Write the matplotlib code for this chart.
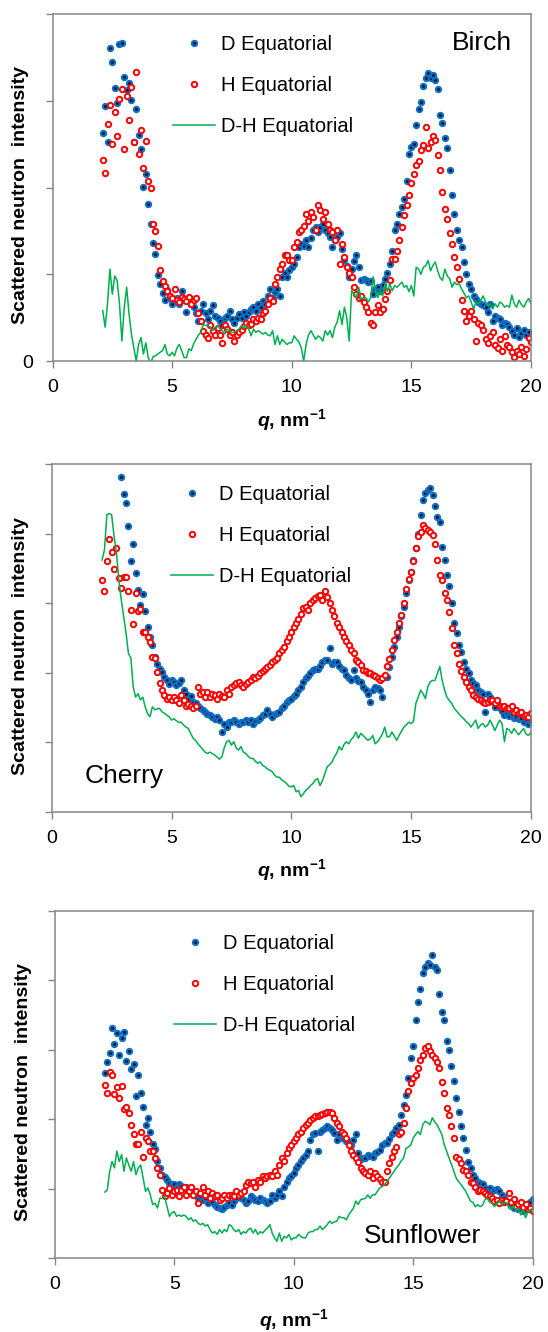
import matplotlib
matplotlib.use('Agg')
import matplotlib.pyplot as plt
import numpy as np

plt.rcParams['font.family'] = ['Liberation Sans', 'DejaVu Sans']
plt.rcParams['mathtext.fontset'] = 'custom'
plt.rcParams['mathtext.it'] = 'Liberation Sans:italic:bold'
plt.rcParams['mathtext.rm'] = 'Liberation Sans:bold'
plt.rcParams['mathtext.bf'] = 'Liberation Sans:bold'

# q grid, nm^-1 (2.1 ... 20.0)
q = np.round(np.arange(2.1, 20.05, 0.1), 1)

# intensities in tick units
birch_d = [
    2.63, 2.94, 2.52, 3.61, 3.45, 3.15, 2.97, 3.65, 3.66, 3.27,
    3.12, 3.21, 3.01, 2.52, 2.90, 2.61, 2.44, 2.01, 2.15, 1.81,
    1.58, 1.36, 1.23, 0.99, 0.89, 0.78, 0.70, 0.82, 0.73, 0.66,
    0.70, 0.73, 0.66, 0.81, 0.70, 0.56, 0.73, 0.66, 0.62, 0.55,
    0.46, 0.58, 0.66, 0.55, 0.48, 0.58, 0.64, 0.52, 0.50, 0.46,
    0.42, 0.50, 0.52, 0.58, 0.48, 0.44, 0.50, 0.54, 0.50, 0.56,
    0.52, 0.56, 0.60, 0.62, 0.58, 0.66, 0.62, 0.69, 0.66, 0.75,
    0.83, 0.73, 0.80, 0.83, 0.75, 0.97, 1.02, 0.97, 1.05, 1.08,
    1.12, 1.20, 1.31, 1.35, 1.33, 1.39, 1.31, 1.42, 1.51, 1.54,
    1.49, 1.55, 1.58, 1.51, 1.47, 1.43, 1.31, 1.39, 1.43, 1.47,
    1.29, 1.16, 1.10, 0.97, 1.06, 1.15, 1.22, 1.08, 0.93, 0.95,
    0.93, 0.91, 0.92, 0.77, 0.83, 0.85, 0.81, 0.88, 0.95, 1.02,
    1.12, 1.27, 1.51, 1.58, 1.70, 1.78, 1.87, 2.07, 2.39, 2.47,
    2.50, 2.72, 2.90, 2.99, 3.17, 3.26, 3.32, 3.26, 3.30, 3.24,
    3.13, 2.84, 2.74, 2.57, 2.45, 2.20, 1.91, 1.70, 1.51, 1.39,
    1.31, 1.14, 1.00, 0.89, 0.83, 0.75, 0.72, 0.68, 0.66, 0.64,
    0.62, 0.56, 0.66, 0.46, 0.52, 0.50, 0.48, 0.42, 0.44, 0.43,
    0.39, 0.35, 0.30, 0.38, 0.28, 0.32, 0.36, 0.30, 0.33, 0.27,
]
birch_h = [
    2.32, 2.17, 2.73, 2.95, 2.50, 2.87, 2.59, 3.02, 3.14, 2.44,
    3.06, 2.78, 3.16, 2.52, 3.33, 2.39, 2.66, 2.22, 2.54, 2.08,
    2.00, 1.58, 1.50, 1.32, 1.05, 0.92, 0.86, 0.81, 0.75, 0.73,
    0.83, 0.70, 0.68, 0.74, 0.72, 0.69, 0.74, 0.66, 0.70, 0.73,
    0.55, 0.46, 0.35, 0.30, 0.27, 0.41, 0.35, 0.30, 0.38, 0.30,
    0.21, 0.41, 0.37, 0.30, 0.33, 0.23, 0.30, 0.33, 0.36, 0.40,
    0.44, 0.41, 0.43, 0.48, 0.46, 0.50, 0.48, 0.55, 0.58, 0.66,
    0.73, 0.69, 0.89, 0.97, 1.06, 1.12, 1.22, 1.22, 1.16, 1.16,
    1.31, 1.37, 1.49, 1.51, 1.56, 1.70, 1.61, 1.72, 1.66, 1.51,
    1.80, 1.74, 1.64, 1.72, 1.58, 1.51, 1.49, 1.39, 1.51, 1.12,
    1.35, 1.20, 1.08, 1.02, 0.97, 0.85, 0.77, 0.73, 0.75, 0.68,
    0.62, 0.56, 0.44, 0.41, 0.56, 0.64, 0.56, 0.60, 0.71, 0.81,
    0.93, 1.18, 1.18, 1.27, 1.39, 1.54, 1.68, 1.80, 1.91, 2.05,
    2.16, 2.26, 2.30, 2.43, 2.49, 2.70, 2.45, 2.53, 2.59, 2.55,
    2.37, 2.20, 1.95, 1.75, 1.64, 1.47, 1.35, 1.20, 1.08, 0.95,
    0.70, 0.58, 0.46, 0.52, 0.58, 0.48, 0.23, 0.44, 0.41, 0.36,
    0.25, 0.21, 0.29, 0.33, 0.19, 0.15, 0.25, 0.12, 0.29, 0.18,
    0.16, 0.10, 0.05, 0.12, 0.08, 0.16, 0.06, 0.14, 0.26, 0.22,
]
birch_dh = [
    0.58, 0.39, 0.66, 1.06, 0.77, 0.98, 0.93, 0.66, 0.23, 0.62,
    0.85, 0.54, 0.31, 0.15, 0.00, 0.19, 0.27, 0.08, 0.21, 0.04,
    -0.03, 0.05, 0.06, 0.08, 0.10, 0.12, 0.19, 0.08, 0.06, 0.10,
    0.06, 0.15, 0.19, 0.12, 0.04, 0.04, 0.14, 0.12, 0.20, 0.25,
    0.30, 0.33, 0.42, 0.41, 0.41, 0.39, 0.35, 0.39, 0.41, 0.37,
    0.35, 0.31, 0.37, 0.35, 0.33, 0.33, 0.35, 0.37, 0.41, 0.38,
    0.41, 0.37, 0.29, 0.37, 0.33, 0.35, 0.33, 0.31, 0.33, 0.30,
    0.29, 0.35, 0.19, 0.29, 0.19, 0.25, 0.22, 0.19, 0.21, 0.21,
    0.29, 0.25, 0.22, 0.15, 0.00, 0.19, 0.30, 0.35, 0.30, 0.25,
    0.29, 0.27, 0.23, 0.35, 0.30, 0.35, 0.27, 0.39, 0.45, 0.58,
    0.42, 0.62, 0.50, 0.23, 0.81, 0.77, 0.73, 0.85, 0.71, 0.73,
    0.73, 0.68, 0.73, 0.97, 0.81, 0.73, 0.81, 0.75, 0.89, 0.80,
    0.89, 0.81, 0.87, 0.85, 0.88, 0.91, 0.85, 0.87, 0.80, 0.87,
    0.75, 1.08, 1.06, 1.00, 1.08, 1.10, 1.16, 1.04, 1.10, 1.14,
    1.04, 0.96, 0.93, 1.06, 0.98, 0.95, 0.85, 0.91, 0.88, 0.89,
    0.83, 0.78, 0.73, 0.75, 0.68, 0.60, 0.68, 0.66, 0.70, 0.75,
    0.68, 0.64, 0.66, 0.60, 0.66, 0.62, 0.68, 0.66, 0.62, 0.64,
    0.62, 0.76, 0.66, 0.62, 0.70, 0.65, 0.62, 0.68, 0.72, 0.66,
]

nan = np.nan
cherry_d = [
    nan, nan, nan, nan, nan, nan, nan, nan, 4.82, 4.57,
    4.44, 4.11, 3.60, 3.85, 3.43, 3.19, 2.97, 3.13, 2.89, 2.66,
    2.52, 2.40, 2.23, 2.13, 2.05, 2.01, 1.94, 1.89, 1.84, 1.90,
    1.87, 1.82, 1.85, 1.89, 1.75, 1.70, 1.63, 1.66, 1.58, 1.56,
    1.52, 1.49, 1.46, 1.44, 1.41, 1.40, 1.37, 1.34, 1.36, 1.32,
    1.15, 1.27, 1.22, 1.29, 1.30, 1.32, 1.29, 1.27, 1.30, 1.29,
    1.32, 1.30, 1.32, 1.27, 1.31, 1.32, 1.35, 1.39, 1.41, 1.47,
    1.41, 1.37, 1.41, 1.42, 1.44, 1.49, 1.53, 1.58, 1.61, 1.63,
    1.67, 1.70, 1.75, 1.80, 1.87, 1.92, 1.95, 1.99, 2.04, 2.06,
    2.06, 2.10, 2.16, 2.18, 2.19, 2.36, 2.13, 2.16, 2.16, 2.10,
    2.06, 2.04, 1.97, 1.93, 1.89, 2.04, 1.92, 1.88, 1.87, 1.80,
    1.75, 1.70, 1.58, 1.75, 1.80, 1.78, 1.75, 1.65, 1.94, 1.94,
    2.09, 2.23, 2.37, 2.52, 2.66, 2.81, 2.95, 3.14, 3.33, 3.45,
    3.62, 3.80, 4.00, 4.27, 4.48, 4.58, 4.62, 4.65, 4.56, 4.39,
    4.24, 4.17, 3.81, 3.62, 3.41, 3.24, 3.00, 2.71, 2.57, 2.40,
    2.30, 2.16, 2.05, 1.99, 1.89, 1.85, 1.82, 1.75, 1.72, 1.70,
    1.44, 1.70, 1.65, 1.60, 1.51, 1.56, 1.50, 1.45, 1.39, 1.41,
    1.38, 1.41, 1.35, 1.37, 1.33, 1.35, 1.30, 1.34, 1.27, 1.30,
]
cherry_h = [
    3.33, 3.17, 3.61, 3.92, 3.74, 3.49, 3.80, 3.36, 3.22, 3.38,
    3.38, 3.18, 2.90, 2.70, 3.14, 2.89, 2.91, 2.59, 2.59, 2.52,
    2.44, 2.23, 2.21, 2.01, 1.85, 1.75, 1.68, 1.63, 1.65, 1.61,
    1.65, 1.61, 1.56, 1.68, 1.61, 1.53, 1.55, 1.53, 1.49, 1.53,
    1.80, 1.70, 1.72, 1.65, 1.73, 1.65, 1.70, 1.68, 1.63, 1.70,
    1.67, 1.65, 1.75, 1.70, 1.80, 1.83, 1.85, 1.87, 1.82, 1.80,
    1.84, 1.87, 1.90, 1.94, 1.92, 1.96, 1.99, 2.03, 2.06, 2.09,
    2.11, 2.16, 2.18, 2.21, 2.28, 2.33, 2.37, 2.45, 2.52, 2.59,
    2.66, 2.72, 2.78, 2.85, 2.93, 2.95, 2.90, 3.00, 3.05, 3.07,
    3.10, 3.12, 3.05, 3.17, 3.09, 3.00, 2.90, 2.81, 2.71, 2.66,
    2.58, 2.52, 2.45, 2.40, 2.33, 2.28, 2.18, 2.15, 2.11, 2.04,
    2.02, 1.99, 1.99, 1.97, 1.95, 1.92, 1.89, 1.93, 1.97, 2.10,
    2.20, 2.33, 2.47, 2.59, 2.71, 2.83, 3.00, 3.20, 3.35, 3.45,
    3.60, 3.80, 3.96, 4.03, 4.12, 4.08, 4.05, 4.03, 3.98, 3.85,
    3.62, 3.40, 3.33, 3.14, 3.05, 2.88, 2.64, 2.40, 2.28, 2.12,
    2.02, 1.94, 1.87, 1.80, 1.75, 1.68, 1.65, 1.63, 1.61, 1.58,
    1.56, 1.58, 1.61, 1.61, 1.56, 1.61, 1.53, 1.51, 1.53, 1.50,
    1.49, 1.52, 1.44, 1.47, 1.42, 1.44, 1.38, 1.40, 1.37, 1.42,
]
cherry_dh = [
    3.62, 3.77, 4.27, 4.29, 4.27, 3.96, 3.72, 3.33, 3.05, 2.81,
    2.57, 2.28, 2.21, 1.80, 1.65, 1.70, 1.61, 1.65, 1.51, 1.41,
    1.37, 1.51, 1.47, 1.48, 1.49, 1.44, 1.42, 1.39, 1.37, 1.32,
    1.34, 1.31, 1.29, 1.29, 1.25, 1.22, 1.20, 1.13, 1.06, 1.03,
    0.98, 0.94, 0.90, 0.86, 0.84, 0.86, 0.84, 0.82, 0.79, 0.76,
    0.79, 0.92, 1.01, 1.03, 0.96, 1.01, 0.92, 0.89, 0.94, 0.86,
    0.84, 0.80, 0.77, 0.77, 0.73, 0.70, 0.72, 0.67, 0.65, 0.62,
    0.60, 0.58, 0.53, 0.50, 0.50, 0.46, 0.44, 0.41, 0.37, 0.36,
    0.38, 0.29, 0.31, 0.22, 0.26, 0.31, 0.34, 0.38, 0.41, 0.46,
    0.48, 0.38, 0.45, 0.55, 0.65, 0.68, 0.72, 0.79, 0.85, 0.94,
    0.89, 0.97, 1.01, 0.98, 1.04, 1.08, 1.15, 1.06, 1.13, 1.10,
    1.06, 1.03, 1.05, 1.10, 0.98, 1.01, 1.06, 1.12, 1.22, 1.08,
    1.08, 1.15, 1.09, 1.03, 1.10, 1.16, 1.22, 1.25, 1.29, 1.27,
    1.30, 1.56, 1.65, 1.75, 1.70, 1.63, 1.80, 1.87, 1.89, 1.89,
    1.99, 2.09, 1.89, 1.75, 1.65, 1.60, 1.56, 1.49, 1.45, 1.41,
    1.37, 1.34, 1.30, 1.27, 1.22, 1.27, 1.32, 1.20, 1.25, 1.27,
    1.22, 1.25, 1.32, 1.25, 1.17, 1.25, 1.32, 1.27, 1.01, 1.20,
    1.18, 1.13, 1.20, 1.15, 1.11, 1.16, 1.20, 1.12, 1.10, 1.14,
]

sun_d = [
    2.66, 2.83, 2.96, 3.31, 3.08, 3.24, 2.92, 3.17, 3.25, 2.84,
    2.98, 2.72, 2.79, 2.34, 2.64, 2.38, 2.17, 1.92, 2.02, 1.82,
    1.64, 1.57, 1.40, 1.30, 1.20, 1.16, 1.13, 1.08, 1.07, 1.06,
    1.03, 1.06, 1.04, 1.01, 1.03, 0.98, 0.96, 0.94, 0.92, 0.86,
    0.89, 0.84, 0.86, 0.79, 0.84, 0.80, 0.77, 0.74, 0.72, 0.70,
    0.74, 0.76, 0.79, 0.77, 0.82, 0.86, 0.91, 0.86, 0.83, 0.79,
    0.82, 0.89, 0.86, 0.84, 0.82, 0.86, 0.84, 0.82, 0.79, 0.82,
    0.91, 0.86, 0.91, 0.96, 0.89, 1.03, 1.10, 1.15, 1.18, 1.22,
    1.30, 1.34, 1.40, 1.44, 1.49, 1.54, 1.70, 1.78, 1.80, 1.54,
    1.82, 1.85, 1.88, 1.90, 1.87, 1.84, 1.80, 1.70, 1.78, 1.73,
    1.75, 1.68, 1.66, 1.63, 1.70, 1.78, 1.51, 1.42, 1.44, 1.44,
    1.49, 1.47, 1.46, 1.51, 1.53, 1.56, 1.63, 1.66, 1.66, 1.72,
    1.78, 1.82, 1.88, 1.92, 2.06, 2.21, 2.35, 2.59, 2.88, 3.05,
    3.43, 3.69, 3.87, 4.10, 4.20, 4.25, 4.22, 4.37, 4.20, 4.15,
    3.80, 3.55, 3.43, 3.12, 3.00, 2.76, 2.55, 2.30, 2.10, 1.90,
    1.73, 1.56, 1.39, 1.30, 1.20, 1.15, 1.10, 1.08, 1.06, 1.01,
    0.96, 1.01, 0.97, 0.98, 1.00, 0.96, 0.91, 0.86, 0.82, 0.80,
    0.78, 0.72, 0.75, 0.70, 0.73, 0.68, 0.72, 0.77, 0.80, 0.85,
]
sun_h = [
    2.50, 2.38, 2.68, 2.63, 2.37, 2.47, 2.30, 2.48, 2.15, 2.18,
    2.09, 1.92, 1.78, 1.64, 1.64, 1.81, 1.46, 1.73, 1.68, 1.54,
    1.54, 1.44, 1.30, 1.20, 0.98, 0.89, 0.94, 1.01, 0.91, 0.96,
    0.98, 0.89, 0.98, 1.03, 0.91, 0.96, 1.03, 0.91, 0.96, 0.79,
    0.94, 1.03, 0.91, 0.96, 0.86, 0.94, 0.89, 0.91, 0.84, 0.86,
    0.91, 0.86, 0.91, 0.91, 0.89, 0.96, 0.91, 0.94, 0.96, 1.05,
    1.10, 1.08, 1.10, 1.03, 1.13, 1.10, 1.18, 1.15, 1.18, 1.20,
    1.18, 1.25, 1.20, 1.34, 1.44, 1.40, 1.51, 1.58, 1.63, 1.68,
    1.73, 1.78, 1.82, 1.87, 1.92, 1.95, 1.99, 2.02, 2.04, 2.04,
    2.06, 2.08, 2.09, 2.11, 2.10, 2.09, 2.02, 1.95, 1.90, 1.82,
    1.78, 1.73, 1.63, 1.54, 1.48, 1.44, 1.39, 1.30, 1.25, 1.22,
    1.20, 1.25, 1.15, 1.22, 1.18, 1.14, 1.10, 1.10, 1.25, 1.37,
    1.45, 1.54, 1.60, 1.78, 1.82, 1.94, 2.16, 2.40, 2.52, 2.59,
    2.64, 2.74, 2.86, 2.93, 3.02, 3.05, 2.98, 2.93, 2.88, 2.83,
    2.74, 2.54, 2.38, 2.16, 2.06, 1.90, 1.73, 1.46, 1.42, 1.37,
    1.27, 1.25, 1.20, 1.10, 1.08, 1.03, 0.96, 0.98, 0.96, 0.93,
    0.91, 0.89, 0.86, 0.82, 0.84, 0.79, 0.84, 0.80, 0.82, 0.94,
    0.80, 0.85, 0.75, 0.78, 0.80, 0.74, 0.78, 0.70, 0.72, 0.68,
]
sun_dh = [
    0.95, 0.98, 1.25, 1.39, 1.30, 1.54, 1.39, 1.49, 1.25, 1.44,
    1.34, 1.25, 1.39, 1.20, 1.30, 1.34, 1.15, 0.96, 1.01, 0.91,
    0.77, 0.79, 0.72, 0.86, 0.86, 0.89, 0.74, 0.60, 0.65, 0.67,
    0.60, 0.62, 0.60, 0.62, 0.60, 0.55, 0.58, 0.53, 0.55, 0.50,
    0.48, 0.50, 0.46, 0.48, 0.41, 0.36, 0.38, 0.34, 0.41, 0.36,
    0.41, 0.38, 0.48, 0.46, 0.40, 0.38, 0.41, 0.34, 0.38, 0.36,
    0.41, 0.43, 0.36, 0.41, 0.34, 0.38, 0.36, 0.40, 0.43, 0.48,
    0.36, 0.29, 0.24, 0.36, 0.24, 0.31, 0.29, 0.34, 0.26, 0.29,
    0.29, 0.34, 0.31, 0.29, 0.29, 0.36, 0.38, 0.38, 0.41, 0.41,
    0.46, 0.41, 0.44, 0.48, 0.53, 0.50, 0.52, 0.53, 0.60, 0.58,
    0.58, 0.55, 0.62, 0.67, 0.72, 0.82, 0.77, 0.84, 0.85, 0.86,
    0.91, 0.86, 0.91, 0.91, 0.96, 1.01, 1.03, 1.06, 1.10, 1.15,
    1.20, 1.25, 1.30, 1.34, 1.40, 1.44, 1.58, 1.60, 1.63, 1.73,
    1.78, 1.82, 1.78, 1.92, 1.97, 1.95, 1.92, 2.02, 1.96, 1.92,
    1.85, 1.78, 1.63, 1.54, 1.44, 1.35, 1.25, 1.15, 1.10, 1.06,
    1.01, 0.96, 0.89, 0.82, 0.80, 0.74, 0.77, 0.74, 0.76, 0.84,
    0.86, 0.80, 0.79, 0.74, 0.78, 0.82, 0.77, 0.79, 0.80, 0.72,
    0.70, 0.75, 0.68, 0.72, 0.62, 0.70, 0.58, 0.66, 0.70, 0.66,
]

labels = ['D Equatorial', 'H Equatorial', 'D-H Equatorial']
xticks = [0, 5, 10, 15, 20]

BLUE = '#0f6fc6'
RED = '#ff0000'
GREEN = '#00b050'
GRAY = '#868686'


def panel(fig, rect, d, h, dh, ymax, ylabels, name, name_xy, leg_xy, xlab_y):
    ax = fig.add_axes(rect)
    ax.plot(q, d, ls='none', marker='o', ms=3.8, mew=1.5, mec=BLUE, mfc='#0a1f3a',
            label=labels[0])
    ax.plot(q, h, ls='none', marker='o', ms=3.9, mew=1.4, mec=RED, mfc='white',
            label=labels[1])
    ax.plot(q, dh, color=GREEN, lw=1.1, label=labels[2])

    ax.set_xlim(0, 20)
    ax.set_ylim(0, ymax)
    ax.set_xticks(xticks)
    ax.set_xticklabels([str(t) for t in xticks])
    ax.set_yticks(range(ymax + 1))
    ax.set_yticklabels(ylabels)
    ax.tick_params(direction='out', length=5, width=1, color=GRAY,
                   labelsize=14, pad=8)
    ax.tick_params(axis='y', pad=9)
    for sp in ax.spines.values():
        sp.set_color(GRAY)
        sp.set_linewidth(1.1)

    ax.set_xlabel(r'$q$, nm$^{-1}$', fontsize=14, fontweight='bold', va='center')
    ax.xaxis.set_label_coords(0.5, xlab_y)
    ax.set_ylabel('Scattered neutron  intensity', fontsize=14, fontweight='bold',
                  va='center')
    ax.yaxis.set_label_coords(-0.066, 0.477)

    ax.text(name_xy[0], name_xy[1], name, transform=ax.transAxes, fontsize=19,
            ha='center', va='baseline')

    ax.legend(loc='upper left', bbox_to_anchor=leg_xy, frameon=False, fontsize=14.5,
              numpoints=1, borderpad=0, borderaxespad=0, handlelength=2.1,
              handletextpad=0.3, labelspacing=1.1)
    return ax


fig = plt.figure(figsize=(5.48, 13.32), dpi=100)

panel(fig, [52.5 / 548, 1 - 361 / 1332, 478.5 / 548, 347 / 1332],
      birch_d, birch_h, birch_dh, 4, ['0', '', '', '', ''],
      'Birch', (0.898, 0.896), (0.251, 0.94), -0.17)

panel(fig, [51.8 / 548, 1 - 812 / 1332, 479 / 548, 348 / 1332],
      cherry_d, cherry_h, cherry_dh, 5, [''] * 6,
      'Cherry', (0.152, 0.083), (0.249, 0.94), -0.167)

panel(fig, [54.7 / 548, 1 - 1258 / 1332, 478 / 548, 347 / 1332],
      sun_d, sun_h, sun_dh, 5, [''] * 6,
      'Sunflower', (0.770, 0.044), (0.250, 0.934), -0.178)

fig.savefig('out.png', dpi=100)
